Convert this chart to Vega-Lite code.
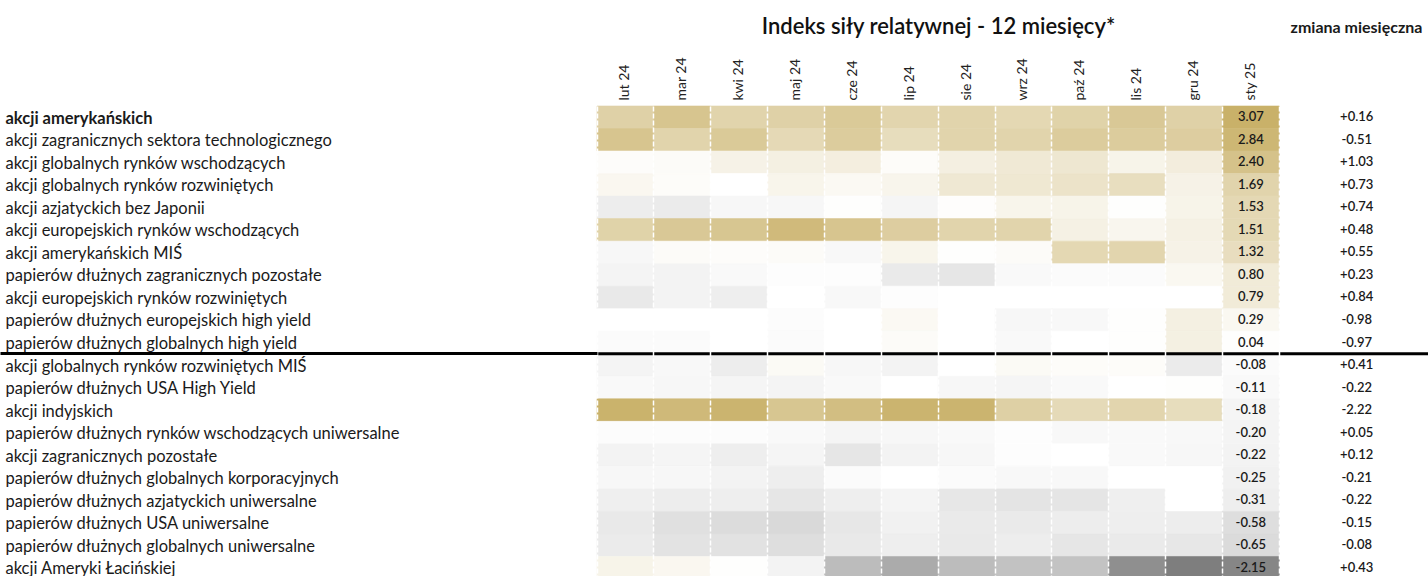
{
  "$schema": "https://vega.github.io/schema/vega-lite/v6.json",
  "width": 831,
  "height": 473,
  "autosize": "none",
  "padding": {"left": 597, "top": 106, "right": 0, "bottom": 0},
  "background": "white",
  "config": {
    "view": {"stroke": null},
    "font": "Lato",
    "locale": {"number": {"decimal": ".", "thousands": ",", "grouping": [3], "currency": ["", ""], "minus": "-"}}
  },
  "datasets": {
    "cells": [
      {"asset": "akcji amerykańskich", "month": "lut 24", "value": 1.8},
      {"asset": "akcji amerykańskich", "month": "mar 24", "value": 2.3},
      {"asset": "akcji amerykańskich", "month": "kwi 24", "value": 1.7},
      {"asset": "akcji amerykańskich", "month": "maj 24", "value": 1.8},
      {"asset": "akcji amerykańskich", "month": "cze 24", "value": 2.1},
      {"asset": "akcji amerykańskich", "month": "lip 24", "value": 1.65},
      {"asset": "akcji amerykańskich", "month": "sie 24", "value": 1.7},
      {"asset": "akcji amerykańskich", "month": "wrz 24", "value": 1.55},
      {"asset": "akcji amerykańskich", "month": "paź 24", "value": 1.75},
      {"asset": "akcji amerykańskich", "month": "lis 24", "value": 2.15},
      {"asset": "akcji amerykańskich", "month": "gru 24", "value": 1.8},
      {"asset": "akcji amerykańskich", "month": "sty 25", "value": 3.07},
      {"asset": "akcji zagranicznych sektora technologicznego", "month": "lut 24", "value": 2.3},
      {"asset": "akcji zagranicznych sektora technologicznego", "month": "mar 24", "value": 1.7},
      {"asset": "akcji zagranicznych sektora technologicznego", "month": "kwi 24", "value": 2.1},
      {"asset": "akcji zagranicznych sektora technologicznego", "month": "maj 24", "value": 1.5},
      {"asset": "akcji zagranicznych sektora technologicznego", "month": "cze 24", "value": 2.0},
      {"asset": "akcji zagranicznych sektora technologicznego", "month": "lip 24", "value": 1.35},
      {"asset": "akcji zagranicznych sektora technologicznego", "month": "sie 24", "value": 1.7},
      {"asset": "akcji zagranicznych sektora technologicznego", "month": "wrz 24", "value": 1.7},
      {"asset": "akcji zagranicznych sektora technologicznego", "month": "paź 24", "value": 2.0},
      {"asset": "akcji zagranicznych sektora technologicznego", "month": "lis 24", "value": 2.0},
      {"asset": "akcji zagranicznych sektora technologicznego", "month": "gru 24", "value": 1.95},
      {"asset": "akcji zagranicznych sektora technologicznego", "month": "sty 25", "value": 2.84},
      {"asset": "akcji globalnych rynków wschodzących", "month": "lut 24", "value": 0.1},
      {"asset": "akcji globalnych rynków wschodzących", "month": "mar 24", "value": 0.15},
      {"asset": "akcji globalnych rynków wschodzących", "month": "kwi 24", "value": 0.5},
      {"asset": "akcji globalnych rynków wschodzących", "month": "maj 24", "value": 0.6},
      {"asset": "akcji globalnych rynków wschodzących", "month": "cze 24", "value": 0.65},
      {"asset": "akcji globalnych rynków wschodzących", "month": "lip 24", "value": 0.12},
      {"asset": "akcji globalnych rynków wschodzących", "month": "sie 24", "value": 0.62},
      {"asset": "akcji globalnych rynków wschodzących", "month": "wrz 24", "value": 0.85},
      {"asset": "akcji globalnych rynków wschodzących", "month": "paź 24", "value": 0.95},
      {"asset": "akcji globalnych rynków wschodzących", "month": "lis 24", "value": 0.45},
      {"asset": "akcji globalnych rynków wschodzących", "month": "gru 24", "value": 0.7},
      {"asset": "akcji globalnych rynków wschodzących", "month": "sty 25", "value": 2.40},
      {"asset": "akcji globalnych rynków rozwiniętych", "month": "lut 24", "value": 0.3},
      {"asset": "akcji globalnych rynków rozwiniętych", "month": "mar 24", "value": 0.12},
      {"asset": "akcji globalnych rynków rozwiniętych", "month": "kwi 24", "value": 0.0},
      {"asset": "akcji globalnych rynków rozwiniętych", "month": "maj 24", "value": 0.4},
      {"asset": "akcji globalnych rynków rozwiniętych", "month": "cze 24", "value": 0.25},
      {"asset": "akcji globalnych rynków rozwiniętych", "month": "lip 24", "value": 0.38},
      {"asset": "akcji globalnych rynków rozwiniętych", "month": "sie 24", "value": 0.9},
      {"asset": "akcji globalnych rynków rozwiniętych", "month": "wrz 24", "value": 0.92},
      {"asset": "akcji globalnych rynków rozwiniętych", "month": "paź 24", "value": 1.1},
      {"asset": "akcji globalnych rynków rozwiniętych", "month": "lis 24", "value": 1.3},
      {"asset": "akcji globalnych rynków rozwiniętych", "month": "gru 24", "value": 0.5},
      {"asset": "akcji globalnych rynków rozwiniętych", "month": "sty 25", "value": 1.69},
      {"asset": "akcji azjatyckich bez Japonii", "month": "lut 24", "value": -0.32},
      {"asset": "akcji azjatyckich bez Japonii", "month": "mar 24", "value": -0.35},
      {"asset": "akcji azjatyckich bez Japonii", "month": "kwi 24", "value": -0.15},
      {"asset": "akcji azjatyckich bez Japonii", "month": "maj 24", "value": -0.15},
      {"asset": "akcji azjatyckich bez Japonii", "month": "cze 24", "value": 0.05},
      {"asset": "akcji azjatyckich bez Japonii", "month": "lip 24", "value": -0.18},
      {"asset": "akcji azjatyckich bez Japonii", "month": "sie 24", "value": 0.06},
      {"asset": "akcji azjatyckich bez Japonii", "month": "wrz 24", "value": 0.4},
      {"asset": "akcji azjatyckich bez Japonii", "month": "paź 24", "value": 0.45},
      {"asset": "akcji azjatyckich bez Japonii", "month": "lis 24", "value": 0.05},
      {"asset": "akcji azjatyckich bez Japonii", "month": "gru 24", "value": 0.45},
      {"asset": "akcji azjatyckich bez Japonii", "month": "sty 25", "value": 1.53},
      {"asset": "akcji europejskich rynków wschodzących", "month": "lut 24", "value": 1.75},
      {"asset": "akcji europejskich rynków wschodzących", "month": "mar 24", "value": 2.15},
      {"asset": "akcji europejskich rynków wschodzących", "month": "kwi 24", "value": 2.25},
      {"asset": "akcji europejskich rynków wschodzących", "month": "maj 24", "value": 2.7},
      {"asset": "akcji europejskich rynków wschodzących", "month": "cze 24", "value": 2.3},
      {"asset": "akcji europejskich rynków wschodzących", "month": "lip 24", "value": 1.95},
      {"asset": "akcji europejskich rynków wschodzących", "month": "sie 24", "value": 1.7},
      {"asset": "akcji europejskich rynków wschodzących", "month": "wrz 24", "value": 1.7},
      {"asset": "akcji europejskich rynków wschodzących", "month": "paź 24", "value": 0.55},
      {"asset": "akcji europejskich rynków wschodzących", "month": "lis 24", "value": 0.35},
      {"asset": "akcji europejskich rynków wschodzących", "month": "gru 24", "value": 0.55},
      {"asset": "akcji europejskich rynków wschodzących", "month": "sty 25", "value": 1.51},
      {"asset": "akcji amerykańskich MIŚ", "month": "lut 24", "value": -0.15},
      {"asset": "akcji amerykańskich MIŚ", "month": "mar 24", "value": 0.15},
      {"asset": "akcji amerykańskich MIŚ", "month": "kwi 24", "value": 0.1},
      {"asset": "akcji amerykańskich MIŚ", "month": "maj 24", "value": 0.15},
      {"asset": "akcji amerykańskich MIŚ", "month": "cze 24", "value": -0.12},
      {"asset": "akcji amerykańskich MIŚ", "month": "lip 24", "value": 0.4},
      {"asset": "akcji amerykańskich MIŚ", "month": "sie 24", "value": 0.05},
      {"asset": "akcji amerykańskich MIŚ", "month": "wrz 24", "value": 0.15},
      {"asset": "akcji amerykańskich MIŚ", "month": "paź 24", "value": 1.55},
      {"asset": "akcji amerykańskich MIŚ", "month": "lis 24", "value": 1.65},
      {"asset": "akcji amerykańskich MIŚ", "month": "gru 24", "value": 0.5},
      {"asset": "akcji amerykańskich MIŚ", "month": "sty 25", "value": 1.32},
      {"asset": "papierów dłużnych zagranicznych pozostałe", "month": "lut 24", "value": -0.2},
      {"asset": "papierów dłużnych zagranicznych pozostałe", "month": "mar 24", "value": -0.22},
      {"asset": "papierów dłużnych zagranicznych pozostałe", "month": "kwi 24", "value": -0.1},
      {"asset": "papierów dłużnych zagranicznych pozostałe", "month": "maj 24", "value": -0.03},
      {"asset": "papierów dłużnych zagranicznych pozostałe", "month": "cze 24", "value": -0.03},
      {"asset": "papierów dłużnych zagranicznych pozostałe", "month": "lip 24", "value": -0.38},
      {"asset": "papierów dłużnych zagranicznych pozostałe", "month": "sie 24", "value": -0.45},
      {"asset": "papierów dłużnych zagranicznych pozostałe", "month": "wrz 24", "value": -0.1},
      {"asset": "papierów dłużnych zagranicznych pozostałe", "month": "paź 24", "value": -0.08},
      {"asset": "papierów dłużnych zagranicznych pozostałe", "month": "lis 24", "value": -0.07},
      {"asset": "papierów dłużnych zagranicznych pozostałe", "month": "gru 24", "value": 0.28},
      {"asset": "papierów dłużnych zagranicznych pozostałe", "month": "sty 25", "value": 0.80},
      {"asset": "akcji europejskich rynków rozwiniętych", "month": "lut 24", "value": -0.4},
      {"asset": "akcji europejskich rynków rozwiniętych", "month": "mar 24", "value": -0.22},
      {"asset": "akcji europejskich rynków rozwiniętych", "month": "kwi 24", "value": -0.3},
      {"asset": "akcji europejskich rynków rozwiniętych", "month": "maj 24", "value": 0.0},
      {"asset": "akcji europejskich rynków rozwiniętych", "month": "cze 24", "value": -0.12},
      {"asset": "akcji europejskich rynków rozwiniętych", "month": "lip 24", "value": -0.03},
      {"asset": "akcji europejskich rynków rozwiniętych", "month": "sie 24", "value": 0.0},
      {"asset": "akcji europejskich rynków rozwiniętych", "month": "wrz 24", "value": 0.0},
      {"asset": "akcji europejskich rynków rozwiniętych", "month": "paź 24", "value": 0.01},
      {"asset": "akcji europejskich rynków rozwiniętych", "month": "lis 24", "value": 0.01},
      {"asset": "akcji europejskich rynków rozwiniętych", "month": "gru 24", "value": 0.01},
      {"asset": "akcji europejskich rynków rozwiniętych", "month": "sty 25", "value": 0.79},
      {"asset": "papierów dłużnych europejskich high yield", "month": "lut 24", "value": 0.0},
      {"asset": "papierów dłużnych europejskich high yield", "month": "mar 24", "value": 0.0},
      {"asset": "papierów dłużnych europejskich high yield", "month": "kwi 24", "value": 0.01},
      {"asset": "papierów dłużnych europejskich high yield", "month": "maj 24", "value": -0.05},
      {"asset": "papierów dłużnych europejskich high yield", "month": "cze 24", "value": 0.0},
      {"asset": "papierów dłużnych europejskich high yield", "month": "lip 24", "value": 0.25},
      {"asset": "papierów dłużnych europejskich high yield", "month": "sie 24", "value": 0.0},
      {"asset": "papierów dłużnych europejskich high yield", "month": "wrz 24", "value": -0.15},
      {"asset": "papierów dłużnych europejskich high yield", "month": "paź 24", "value": -0.12},
      {"asset": "papierów dłużnych europejskich high yield", "month": "lis 24", "value": 0.05},
      {"asset": "papierów dłużnych europejskich high yield", "month": "gru 24", "value": 0.6},
      {"asset": "papierów dłużnych europejskich high yield", "month": "sty 25", "value": 0.29},
      {"asset": "papierów dłużnych globalnych high yield", "month": "lut 24", "value": -0.08},
      {"asset": "papierów dłużnych globalnych high yield", "month": "mar 24", "value": -0.07},
      {"asset": "papierów dłużnych globalnych high yield", "month": "kwi 24", "value": 0.0},
      {"asset": "papierów dłużnych globalnych high yield", "month": "maj 24", "value": -0.07},
      {"asset": "papierów dłużnych globalnych high yield", "month": "cze 24", "value": 0.0},
      {"asset": "papierów dłużnych globalnych high yield", "month": "lip 24", "value": 0.15},
      {"asset": "papierów dłużnych globalnych high yield", "month": "sie 24", "value": 0.0},
      {"asset": "papierów dłużnych globalnych high yield", "month": "wrz 24", "value": -0.1},
      {"asset": "papierów dłużnych globalnych high yield", "month": "paź 24", "value": 0.0},
      {"asset": "papierów dłużnych globalnych high yield", "month": "lis 24", "value": 0.05},
      {"asset": "papierów dłużnych globalnych high yield", "month": "gru 24", "value": 0.6},
      {"asset": "papierów dłużnych globalnych high yield", "month": "sty 25", "value": 0.04},
      {"asset": "akcji globalnych rynków rozwiniętych MIŚ", "month": "lut 24", "value": -0.2},
      {"asset": "akcji globalnych rynków rozwiniętych MIŚ", "month": "mar 24", "value": -0.12},
      {"asset": "akcji globalnych rynków rozwiniętych MIŚ", "month": "kwi 24", "value": -0.32},
      {"asset": "akcji globalnych rynków rozwiniętych MIŚ", "month": "maj 24", "value": 0.2},
      {"asset": "akcji globalnych rynków rozwiniętych MIŚ", "month": "cze 24", "value": -0.15},
      {"asset": "akcji globalnych rynków rozwiniętych MIŚ", "month": "lip 24", "value": -0.22},
      {"asset": "akcji globalnych rynków rozwiniętych MIŚ", "month": "sie 24", "value": 0.0},
      {"asset": "akcji globalnych rynków rozwiniętych MIŚ", "month": "wrz 24", "value": 0.2},
      {"asset": "akcji globalnych rynków rozwiniętych MIŚ", "month": "paź 24", "value": 0.12},
      {"asset": "akcji globalnych rynków rozwiniętych MIŚ", "month": "lis 24", "value": 0.12},
      {"asset": "akcji globalnych rynków rozwiniętych MIŚ", "month": "gru 24", "value": -0.35},
      {"asset": "akcji globalnych rynków rozwiniętych MIŚ", "month": "sty 25", "value": -0.08},
      {"asset": "papierów dłużnych USA High Yield", "month": "lut 24", "value": -0.1},
      {"asset": "papierów dłużnych USA High Yield", "month": "mar 24", "value": -0.15},
      {"asset": "papierów dłużnych USA High Yield", "month": "kwi 24", "value": -0.17},
      {"asset": "papierów dłużnych USA High Yield", "month": "maj 24", "value": -0.2},
      {"asset": "papierów dłużnych USA High Yield", "month": "cze 24", "value": -0.1},
      {"asset": "papierów dłużnych USA High Yield", "month": "lip 24", "value": 0.0},
      {"asset": "papierów dłużnych USA High Yield", "month": "sie 24", "value": -0.15},
      {"asset": "papierów dłużnych USA High Yield", "month": "wrz 24", "value": -0.18},
      {"asset": "papierów dłużnych USA High Yield", "month": "paź 24", "value": -0.1},
      {"asset": "papierów dłużnych USA High Yield", "month": "lis 24", "value": 0.0},
      {"asset": "papierów dłużnych USA High Yield", "month": "gru 24", "value": 0.05},
      {"asset": "papierów dłużnych USA High Yield", "month": "sty 25", "value": -0.11},
      {"asset": "akcji indyjskich", "month": "lut 24", "value": 3.0},
      {"asset": "akcji indyjskich", "month": "mar 24", "value": 2.75},
      {"asset": "akcji indyjskich", "month": "kwi 24", "value": 2.95},
      {"asset": "akcji indyjskich", "month": "maj 24", "value": 2.25},
      {"asset": "akcji indyjskich", "month": "cze 24", "value": 2.55},
      {"asset": "akcji indyjskich", "month": "lip 24", "value": 2.95},
      {"asset": "akcji indyjskich", "month": "sie 24", "value": 2.95},
      {"asset": "akcji indyjskich", "month": "wrz 24", "value": 1.85},
      {"asset": "akcji indyjskich", "month": "paź 24", "value": 1.45},
      {"asset": "akcji indyjskich", "month": "lis 24", "value": 1.65},
      {"asset": "akcji indyjskich", "month": "gru 24", "value": 1.35},
      {"asset": "akcji indyjskich", "month": "sty 25", "value": -0.18},
      {"asset": "papierów dłużnych rynków wschodzących uniwersalne", "month": "lut 24", "value": -0.05},
      {"asset": "papierów dłużnych rynków wschodzących uniwersalne", "month": "mar 24", "value": -0.06},
      {"asset": "papierów dłużnych rynków wschodzących uniwersalne", "month": "kwi 24", "value": -0.06},
      {"asset": "papierów dłużnych rynków wschodzących uniwersalne", "month": "maj 24", "value": -0.1},
      {"asset": "papierów dłużnych rynków wschodzących uniwersalne", "month": "cze 24", "value": -0.17},
      {"asset": "papierów dłużnych rynków wschodzących uniwersalne", "month": "lip 24", "value": -0.15},
      {"asset": "papierów dłużnych rynków wschodzących uniwersalne", "month": "sie 24", "value": -0.1},
      {"asset": "papierów dłużnych rynków wschodzących uniwersalne", "month": "wrz 24", "value": -0.03},
      {"asset": "papierów dłużnych rynków wschodzących uniwersalne", "month": "paź 24", "value": -0.12},
      {"asset": "papierów dłużnych rynków wschodzących uniwersalne", "month": "lis 24", "value": -0.1},
      {"asset": "papierów dłużnych rynków wschodzących uniwersalne", "month": "gru 24", "value": -0.12},
      {"asset": "papierów dłużnych rynków wschodzących uniwersalne", "month": "sty 25", "value": -0.20},
      {"asset": "akcji zagranicznych pozostałe", "month": "lut 24", "value": -0.22},
      {"asset": "akcji zagranicznych pozostałe", "month": "mar 24", "value": -0.17},
      {"asset": "akcji zagranicznych pozostałe", "month": "kwi 24", "value": -0.3},
      {"asset": "akcji zagranicznych pozostałe", "month": "maj 24", "value": -0.17},
      {"asset": "akcji zagranicznych pozostałe", "month": "cze 24", "value": -0.45},
      {"asset": "akcji zagranicznych pozostałe", "month": "lip 24", "value": -0.22},
      {"asset": "akcji zagranicznych pozostałe", "month": "sie 24", "value": -0.15},
      {"asset": "akcji zagranicznych pozostałe", "month": "wrz 24", "value": -0.03},
      {"asset": "akcji zagranicznych pozostałe", "month": "paź 24", "value": 0.0},
      {"asset": "akcji zagranicznych pozostałe", "month": "lis 24", "value": -0.1},
      {"asset": "akcji zagranicznych pozostałe", "month": "gru 24", "value": -0.15},
      {"asset": "akcji zagranicznych pozostałe", "month": "sty 25", "value": -0.22},
      {"asset": "papierów dłużnych globalnych korporacyjnych", "month": "lut 24", "value": -0.15},
      {"asset": "papierów dłużnych globalnych korporacyjnych", "month": "mar 24", "value": -0.15},
      {"asset": "papierów dłużnych globalnych korporacyjnych", "month": "kwi 24", "value": -0.22},
      {"asset": "papierów dłużnych globalnych korporacyjnych", "month": "maj 24", "value": -0.3},
      {"asset": "papierów dłużnych globalnych korporacyjnych", "month": "cze 24", "value": -0.07},
      {"asset": "papierów dłużnych globalnych korporacyjnych", "month": "lip 24", "value": 0.0},
      {"asset": "papierów dłużnych globalnych korporacyjnych", "month": "sie 24", "value": -0.07},
      {"asset": "papierów dłużnych globalnych korporacyjnych", "month": "wrz 24", "value": -0.12},
      {"asset": "papierów dłużnych globalnych korporacyjnych", "month": "paź 24", "value": -0.12},
      {"asset": "papierów dłużnych globalnych korporacyjnych", "month": "lis 24", "value": 0.0},
      {"asset": "papierów dłużnych globalnych korporacyjnych", "month": "gru 24", "value": 0.0},
      {"asset": "papierów dłużnych globalnych korporacyjnych", "month": "sty 25", "value": -0.25},
      {"asset": "papierów dłużnych azjatyckich uniwersalne", "month": "lut 24", "value": -0.28},
      {"asset": "papierów dłużnych azjatyckich uniwersalne", "month": "mar 24", "value": -0.32},
      {"asset": "papierów dłużnych azjatyckich uniwersalne", "month": "kwi 24", "value": -0.3},
      {"asset": "papierów dłużnych azjatyckich uniwersalne", "month": "maj 24", "value": -0.45},
      {"asset": "papierów dłużnych azjatyckich uniwersalne", "month": "cze 24", "value": -0.3},
      {"asset": "papierów dłużnych azjatyckich uniwersalne", "month": "lip 24", "value": -0.2},
      {"asset": "papierów dłużnych azjatyckich uniwersalne", "month": "sie 24", "value": -0.42},
      {"asset": "papierów dłużnych azjatyckich uniwersalne", "month": "wrz 24", "value": -0.48},
      {"asset": "papierów dłużnych azjatyckich uniwersalne", "month": "paź 24", "value": -0.46},
      {"asset": "papierów dłużnych azjatyckich uniwersalne", "month": "lis 24", "value": -0.28},
      {"asset": "papierów dłużnych azjatyckich uniwersalne", "month": "gru 24", "value": 0.0},
      {"asset": "papierów dłużnych azjatyckich uniwersalne", "month": "sty 25", "value": -0.31},
      {"asset": "papierów dłużnych USA uniwersalne", "month": "lut 24", "value": -0.4},
      {"asset": "papierów dłużnych USA uniwersalne", "month": "mar 24", "value": -0.56},
      {"asset": "papierów dłużnych USA uniwersalne", "month": "kwi 24", "value": -0.62},
      {"asset": "papierów dłużnych USA uniwersalne", "month": "maj 24", "value": -0.67},
      {"asset": "papierów dłużnych USA uniwersalne", "month": "cze 24", "value": -0.42},
      {"asset": "papierów dłużnych USA uniwersalne", "month": "lip 24", "value": -0.25},
      {"asset": "papierów dłużnych USA uniwersalne", "month": "sie 24", "value": -0.38},
      {"asset": "papierów dłużnych USA uniwersalne", "month": "wrz 24", "value": -0.38},
      {"asset": "papierów dłużnych USA uniwersalne", "month": "paź 24", "value": -0.32},
      {"asset": "papierów dłużnych USA uniwersalne", "month": "lis 24", "value": -0.3},
      {"asset": "papierów dłużnych USA uniwersalne", "month": "gru 24", "value": -0.32},
      {"asset": "papierów dłużnych USA uniwersalne", "month": "sty 25", "value": -0.58},
      {"asset": "papierów dłużnych globalnych uniwersalne", "month": "lut 24", "value": -0.35},
      {"asset": "papierów dłużnych globalnych uniwersalne", "month": "mar 24", "value": -0.5},
      {"asset": "papierów dłużnych globalnych uniwersalne", "month": "kwi 24", "value": -0.52},
      {"asset": "papierów dłużnych globalnych uniwersalne", "month": "maj 24", "value": -0.58},
      {"asset": "papierów dłużnych globalnych uniwersalne", "month": "cze 24", "value": -0.4},
      {"asset": "papierów dłużnych globalnych uniwersalne", "month": "lip 24", "value": -0.3},
      {"asset": "papierów dłużnych globalnych uniwersalne", "month": "sie 24", "value": -0.4},
      {"asset": "papierów dłużnych globalnych uniwersalne", "month": "wrz 24", "value": -0.32},
      {"asset": "papierów dłużnych globalnych uniwersalne", "month": "paź 24", "value": -0.45},
      {"asset": "papierów dłużnych globalnych uniwersalne", "month": "lis 24", "value": -0.38},
      {"asset": "papierów dłużnych globalnych uniwersalne", "month": "gru 24", "value": -0.42},
      {"asset": "papierów dłużnych globalnych uniwersalne", "month": "sty 25", "value": -0.65},
      {"asset": "akcji Ameryki Łacińskiej", "month": "lut 24", "value": 0.45},
      {"asset": "akcji Ameryki Łacińskiej", "month": "mar 24", "value": 0.3},
      {"asset": "akcji Ameryki Łacińskiej", "month": "kwi 24", "value": 0.05},
      {"asset": "akcji Ameryki Łacińskiej", "month": "maj 24", "value": -0.22},
      {"asset": "akcji Ameryki Łacińskiej", "month": "cze 24", "value": -1.2},
      {"asset": "akcji Ameryki Łacińskiej", "month": "lip 24", "value": -1.5},
      {"asset": "akcji Ameryki Łacińskiej", "month": "sie 24", "value": -1.2},
      {"asset": "akcji Ameryki Łacińskiej", "month": "wrz 24", "value": -1.09},
      {"asset": "akcji Ameryki Łacińskiej", "month": "paź 24", "value": -1.07},
      {"asset": "akcji Ameryki Łacińskiej", "month": "lis 24", "value": -2.0},
      {"asset": "akcji Ameryki Łacińskiej", "month": "gru 24", "value": -2.3},
      {"asset": "akcji Ameryki Łacińskiej", "month": "sty 25", "value": -2.15}
    ],
    "change": [
      {"asset": "akcji amerykańskich", "change": 0.16},
      {"asset": "akcji zagranicznych sektora technologicznego", "change": -0.51},
      {"asset": "akcji globalnych rynków wschodzących", "change": 1.03},
      {"asset": "akcji globalnych rynków rozwiniętych", "change": 0.73},
      {"asset": "akcji azjatyckich bez Japonii", "change": 0.74},
      {"asset": "akcji europejskich rynków wschodzących", "change": 0.48},
      {"asset": "akcji amerykańskich MIŚ", "change": 0.55},
      {"asset": "papierów dłużnych zagranicznych pozostałe", "change": 0.23},
      {"asset": "akcji europejskich rynków rozwiniętych", "change": 0.84},
      {"asset": "papierów dłużnych europejskich high yield", "change": -0.98},
      {"asset": "papierów dłużnych globalnych high yield", "change": -0.97},
      {"asset": "akcji globalnych rynków rozwiniętych MIŚ", "change": 0.41},
      {"asset": "papierów dłużnych USA High Yield", "change": -0.22},
      {"asset": "akcji indyjskich", "change": -2.22},
      {"asset": "papierów dłużnych rynków wschodzących uniwersalne", "change": 0.05},
      {"asset": "akcji zagranicznych pozostałe", "change": 0.12},
      {"asset": "papierów dłużnych globalnych korporacyjnych", "change": -0.21},
      {"asset": "papierów dłużnych azjatyckich uniwersalne", "change": -0.22},
      {"asset": "papierów dłużnych USA uniwersalne", "change": -0.15},
      {"asset": "papierów dłużnych globalnych uniwersalne", "change": -0.08},
      {"asset": "akcji Ameryki Łacińskiej", "change": 0.43}
    ],
    "divider": [
      {"asset": "akcji globalnych rynków rozwiniętych MIŚ"}
    ]
  },
  "layer": [
    {
      "data": {"name": "cells"},
      "mark": {"type": "rect", "strokeWidth": 0.6},
      "encoding": {
        "x": {
          "field": "month",
          "type": "nominal",
          "scale": {
            "domain": ["lut 24", "mar 24", "kwi 24", "maj 24", "cze 24", "lip 24", "sie 24", "wrz 24", "paź 24", "lis 24", "gru 24", "sty 25", "zmiana"],
            "paddingInner": 0,
            "paddingOuter": 0.8075,
            "align": 0
          },
          "axis": {
            "orient": "top",
            "domain": false,
            "ticks": false,
            "bandPosition": 0,
            "labelAngle": -90,
            "labelAlign": "left",
            "labelBaseline": "middle",
            "labelPadding": 6,
            "labelFontSize": 14,
            "labelColor": "#222222",
            "labelExpr": "datum.value === 'zmiana' ? '' : datum.label",
            "grid": true,
            "gridColor": "#ffffff",
            "gridDash": [5, 2],
            "gridWidth": 1.5,
            "zindex": 1,
            "title": "Indeks siły relatywnej - 12 miesięcy*",
            "titleX": 341,
            "titleY": -80,
            "titleAngle": 0,
            "titleAlign": "center",
            "titleBaseline": "middle",
            "titleFontSize": 22,
            "titleFontWeight": 600,
            "titleColor": "#111111"
          }
        },
        "y": {
          "field": "asset",
          "type": "nominal",
          "scale": {
            "domain": [
              "akcji amerykańskich",
              "akcji zagranicznych sektora technologicznego",
              "akcji globalnych rynków wschodzących",
              "akcji globalnych rynków rozwiniętych",
              "akcji azjatyckich bez Japonii",
              "akcji europejskich rynków wschodzących",
              "akcji amerykańskich MIŚ",
              "papierów dłużnych zagranicznych pozostałe",
              "akcji europejskich rynków rozwiniętych",
              "papierów dłużnych europejskich high yield",
              "papierów dłużnych globalnych high yield",
              "akcji globalnych rynków rozwiniętych MIŚ",
              "papierów dłużnych USA High Yield",
              "akcji indyjskich",
              "papierów dłużnych rynków wschodzących uniwersalne",
              "akcji zagranicznych pozostałe",
              "papierów dłużnych globalnych korporacyjnych",
              "papierów dłużnych azjatyckich uniwersalne",
              "papierów dłużnych USA uniwersalne",
              "papierów dłużnych globalnych uniwersalne",
              "akcji Ameryki Łacińskiej"
            ],
            "paddingInner": 0,
            "paddingOuter": 0
          },
          "axis": {
            "orient": "left",
            "domain": false,
            "grid": false,
            "ticks": true,
            "tickSize": 597,
            "tickWidth": 3,
            "tickColor": {"condition": {"test": "datum.value === 'akcji globalnych rynków rozwiniętych MIŚ'", "value": "#000000"}, "value": "transparent"},
            "bandPosition": 0,
            "labelAlign": "left",
            "labelBaseline": "middle",
            "labelPadding": -5,
            "labelOffset": 1.5,
            "labelLimit": 0,
            "labelFontSize": 16.5,
            "labelColor": "#1a1a1a",
            "labelFontWeight": {"condition": {"test": "datum.value === 'akcji amerykańskich'", "value": "bold"}, "value": "normal"},
            "title": "zmiana miesięczna",
            "titleX": 759,
            "titleY": -79,
            "titleAngle": 0,
            "titleAlign": "center",
            "titleBaseline": "middle",
            "titleFontSize": 16,
            "titleFontWeight": "bold",
            "titleColor": "#1a1a1a"
          }
        },
        "fill": {
          "field": "value",
          "type": "quantitative",
          "scale": {"domain": [-2.3, 0, 3.07], "range": ["#7e7e7e", "#ffffff", "#c9b169"], "interpolate": "rgb"},
          "legend": null
        },
        "stroke": {
          "field": "value",
          "type": "quantitative",
          "scale": {"domain": [-2.3, 0, 3.07], "range": ["#7e7e7e", "#ffffff", "#c9b169"], "interpolate": "rgb"},
          "legend": null
        }
      }
    },
    {
      "data": {"name": "cells"},
      "transform": [{"filter": {"field": "month", "equal": "sty 25"}}],
      "mark": {"type": "text", "fontSize": 13, "fontWeight": 600, "color": "#1a1a1a", "baseline": "middle", "align": "center"},
      "encoding": {
        "x": {"field": "month", "type": "nominal"},
        "y": {"field": "asset", "type": "nominal"},
        "text": {"field": "value", "type": "quantitative", "format": ".2f"}
      }
    },
    {
      "data": {"name": "change"},
      "mark": {"type": "text", "fontSize": 13, "fontWeight": 600, "color": "#1a1a1a", "baseline": "middle", "align": "center", "dx": 49},
      "encoding": {
        "x": {"datum": "zmiana", "type": "nominal"},
        "y": {"field": "asset", "type": "nominal"},
        "text": {"field": "change", "type": "quantitative", "format": "+.2f"}
      }
    },
    {
      "data": {"name": "divider"},
      "mark": {"type": "rule", "color": "#000000", "strokeWidth": 3},
      "encoding": {
        "y": {"field": "asset", "type": "nominal", "bandPosition": 0}
      }
    }
  ]
}
